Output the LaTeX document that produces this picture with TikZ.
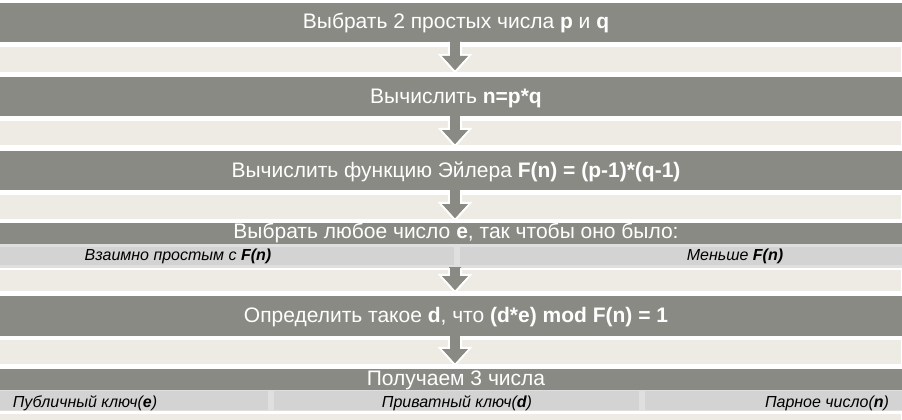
\documentclass[tikz,border=0pt]{standalone}
\usepackage{fontspec}
\setmainfont{Liberation Sans}
\definecolor{dk}{HTML}{8A8A84}
\definecolor{lt}{HTML}{EEEBE4}
\definecolor{sb}{HTML}{D3D3D3}
\definecolor{sbl}{HTML}{DFDFDF}
\tikzset{
  darkbar/.style={fill=dk},
  lightbar/.style={fill=lt},
  subbg/.style={fill=sbl},
  subseg/.style={fill=sb},
  maintext/.style={text=white, inner sep=0pt, anchor=center, text height=15pt, text depth=0pt, font=\fontsize{21}{24}\selectfont},
  subtext/.style={text=black, inner sep=0pt, anchor=center, text height=11.4pt, text depth=0pt, font=\fontsize{16}{19}\selectfont\itshape},
  blockarrow/.style={fill=dk, draw=white, line width=2.2pt, line join=miter, miter limit=10}
}
\newcommand{\blkarrow}[4]{% x, top, shoulder, tip
  \fill[dk] (#1-6,#2-1) -- (#1-6,#3) -- (#1-15,#3) -- (#1,#4) -- (#1+15,#3) -- (#1+6,#3) -- (#1+6,#2-1) -- cycle;
  \draw[blockarrow, fill=none] (#1-6,#2) -- (#1-6,#3) -- (#1-15,#3) -- (#1,#4) -- (#1+15,#3) -- (#1+6,#3) -- (#1+6,#2);
  \fill[dk] (#1-5,#2-1) rectangle (#1+5,#3+1);
  \fill[dk] (#1-13,#3+1) -- (#1,#4-2) -- (#1+13,#3+1) -- cycle;
}
\begin{document}
\begin{tikzpicture}[x=1pt,y=-1pt]
\useasboundingbox[fill=white] (0,0) rectangle (902,420);
% dark bars
\fill[darkbar] (0,3) rectangle (902,42);
\fill[darkbar] (0,77) rectangle (902,116);
\fill[darkbar] (0,151) rectangle (902,190);
\fill[darkbar] (0,223) rectangle (902,244);
\fill[darkbar] (0,296) rectangle (902,336);
\fill[darkbar] (0,369) rectangle (902,390);
% light bars
\fill[lightbar] (0,47) rectangle (901,72);
\fill[lightbar] (0,121) rectangle (901,145);
\fill[lightbar] (0,195) rectangle (901,219);
\fill[lightbar] (0,270) rectangle (901,291);
\fill[lightbar] (0,340) rectangle (901,364);
\fill[lightbar] (0,414) rectangle (901,420);
% sub bars
\fill[subbg] (0,244) rectangle (902,268);
\fill[subseg] (0,247) rectangle (454,265);
\fill[subseg] (460,247) rectangle (902,265);
\fill[subbg] (0,390) rectangle (902,411);
\fill[subseg] (0,391) rectangle (268,410);
\fill[subseg] (274,391) rectangle (639,410);
\fill[subseg] (645,391) rectangle (902,410);
% arrows
\blkarrow{455}{42}{55}{72}
\blkarrow{455}{116}{129}{146}
\blkarrow{455}{190}{203}{220}
\blkarrow{455}{268}{275}{292}
\blkarrow{455}{336}{348}{365}
% texts
\node[maintext] (t1) at (456,21.5) {Выбрать 2 простых числа \textbf{p} и \textbf{q}};
\node[maintext] (t2) at (456,95.5) {Вычислить \textbf{n=p*q}};
\node[maintext] (t3) at (456,169.5) {Вычислить функцию Эйлера \textbf{F(n) = (p-1)*(q-1)}};
\node[maintext] (t4) at (456,231) {Выбрать любое число \textbf{e}, так чтобы оно было:};
\node[maintext] (t5) at (456,315) {Определить такое \textbf{d}, что \textbf{(d*e) mod F(n) = 1}};
\node[maintext] (t6) at (456,378.3) {Получаем 3 числа};
\node[subtext] (s1) at (178,255) {Взаимно простым с \textbf{F(n)}};
\node[subtext] (s2) at (735,255) {Меньше \textbf{F(n)}};
\node[subtext] (s3) at (85,401.5) {Публичный ключ(\textbf{e})};
\node[subtext] (s4) at (457,401.5) {Приватный ключ(\textbf{d})};
\node[subtext] (s5) at (827,401.5) {Парное число(\textbf{n})};
\end{tikzpicture}
\end{document}
